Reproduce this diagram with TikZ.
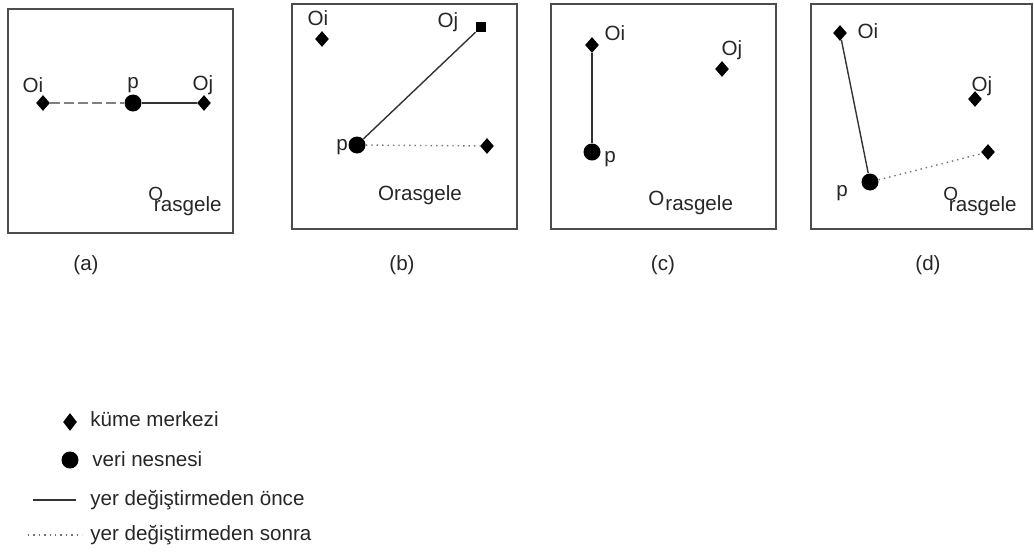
\documentclass[tikz,border=0pt]{standalone}
\usepackage{fontspec}
\setmainfont{Liberation Sans}
\usetikzlibrary{shapes.geometric, positioning}

% O with a lowered "rasgele"
\newcommand{\orasg}[2]{O\kern#1\raisebox{#2}{rasgele}}
\newcommand{\orasgsmall}{{\fontsize{9.5}{11}\selectfont O}\kern-4.6pt\raisebox{-5.5pt}{rasgele}}

\begin{document}
\begin{tikzpicture}[
    x=0.5pt, y=-0.5pt,
    font=\fontsize{10.3}{12}\selectfont,
    frame/.style={draw=black!70, line width=1.1pt},
    centre/.style={diamond, fill=black, inner sep=0pt, minimum width=7pt, minimum height=8pt},
    sqcentre/.style={rectangle, fill=black, inner sep=0pt, minimum size=5pt},
    dataobj/.style={circle, fill=black, inner sep=0pt, minimum size=8.5pt},
    lbl/.style={inner sep=0pt, anchor=base, text=black!85},
    before/.style={draw=black!80, line width=0.7pt},
    after/.style={draw=black!55, line width=0.7pt, dotted},
    faint/.style={draw=black!50, line width=0.7pt, dash pattern=on 5pt off 2pt},
]
\useasboundingbox (0,0) rectangle (1034,552);

% frames
\draw[frame] (8,9)   rectangle (233,233);
\draw[frame] (292,4) rectangle (517,229);
\draw[frame] (551,4) rectangle (776,229);
\draw[frame] (811,4) rectangle (1032,229);

% (a)
\node[centre]  (oia) at (43,103)  {};
\node[dataobj] (pa)  at (133,103) {};
\node[centre]  (oja) at (204,103) {};
\node[lbl] at (33,92)  {Oi};
\node[lbl] at (133,88) {p};
\node[lbl] at (203,90) {Oj};
\node[lbl, anchor=base west] at (148,200) {\orasgsmall};
\draw[faint]  (oia) -- (pa);
\draw[before] (pa)  -- (oja);
\node[lbl] at (86,270) {(a)};

% (b)
\node[centre]   (oib) at (322,39)  {};
\node[sqcentre] (ojb) at (481,27)  {};
\node[dataobj]  (pb)  at (357,145) {};
\node[centre]   (nb)  at (487,146) {};
\node[lbl] at (318,25)  {Oi};
\node[lbl] at (448,27)  {Oj};
\node[lbl] at (342,150) {p};
\node[lbl] at (420,200) {Orasgele};
\draw[before] (pb) -- (ojb);
\draw[after]  (pb) -- (nb);
\node[lbl] at (402,270) {(b)};

% (c)
\node[centre]  (oic) at (592,45)  {};
\node[centre]  (ojc) at (722,69)  {};
\node[dataobj] (pc)  at (592,152) {};
\node[lbl] at (615,40)  {Oi};
\node[lbl] at (732,55)  {Oj};
\node[lbl] at (610,162) {p};
\node[lbl, anchor=base west] at (648,205) {\orasg{0.5pt}{-2.5pt}};
\draw[before] (oic) -- (pc);
\node[lbl] at (663,270) {(c)};

% (d)
\node[centre]  (oid) at (840,33)  {};
\node[centre]  (ojd) at (975,99)  {};
\node[dataobj] (pd)  at (870,182) {};
\node[centre]  (nd)  at (988,152) {};
\node[lbl] at (868,38)  {Oi};
\node[lbl] at (982,91)  {Oj};
\node[lbl] at (842,196) {p};
\node[lbl, anchor=base west] at (943,200) {\orasgsmall};
\draw[before] (oid) -- (pd);
\draw[after]  (pd)  -- (nd);
\node[lbl] at (928,270) {(d)};

% legend
\node[centre, minimum height=9pt] (kd) at (70,422) {};
\node[dataobj] (vd) at (70,460) {};
\coordinate (s1) at (33,500);
\coordinate (s2) at (76,500);
\coordinate (d1) at (28,535);
\coordinate (d2) at (82,535);
\draw[before] (s1) -- (s2);
\draw[after]  (d1) -- (d2);
\node[lbl, anchor=base west] at (90,426) {küme merkezi};
\node[lbl, anchor=base west] at (92,466) {veri nesnesi};
\node[lbl, anchor=base west] at (90,505) {yer değiştirmeden önce};
\node[lbl, anchor=base west] at (90,540) {yer değiştirmeden sonra};

\end{tikzpicture}
\end{document}
